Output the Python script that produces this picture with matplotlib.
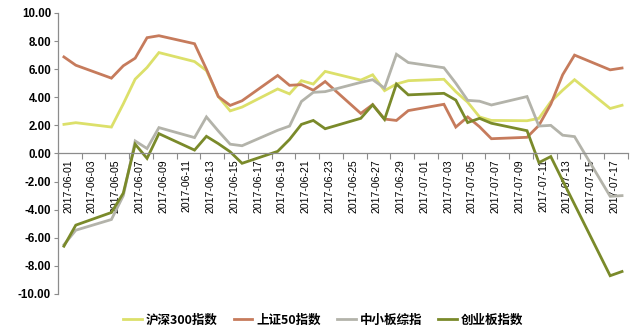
import matplotlib
matplotlib.use("Agg")
import matplotlib.pyplot as plt
import numpy as np
import pandas as pd

# ---- data ----
dates = ["2017-06-01", "2017-06-02", "2017-06-05", "2017-06-06", "2017-06-07", "2017-06-08",
         "2017-06-09", "2017-06-12", "2017-06-13", "2017-06-14", "2017-06-15", "2017-06-16",
         "2017-06-19", "2017-06-20", "2017-06-21", "2017-06-22", "2017-06-23", "2017-06-26",
         "2017-06-27", "2017-06-28", "2017-06-29", "2017-06-30", "2017-07-03", "2017-07-04",
         "2017-07-05", "2017-07-06", "2017-07-07", "2017-07-10", "2017-07-11", "2017-07-12",
         "2017-07-13", "2017-07-14", "2017-07-17", "2017-07-18"]

hs300 = [2.07, 2.19, 1.88, 3.53, 5.29, 6.12, 7.18, 6.54, 5.90, 4.05, 3.03, 3.30,
         4.59, 4.24, 5.18, 4.94, 5.84, 5.22, 5.60, 4.47, 4.94, 5.18, 5.28, 4.40,
         3.65, 2.60, 2.35, 2.33, 2.50, 3.68, 4.50, 5.25, 3.20, 3.43]
sz50 = [6.87, 6.28, 5.36, 6.24, 6.78, 8.24, 8.38, 7.81, 6.00, 4.05, 3.42, 3.75,
        5.55, 4.85, 4.90, 4.50, 5.12, 2.85, 3.48, 2.45, 2.35, 3.05, 3.50, 1.88,
        2.60, 1.90, 1.05, 1.15, 2.00, 3.50, 5.60, 7.00, 5.95, 6.08]
zxb = [-6.50, -5.46, -4.70, -3.00, 0.89, 0.35, 1.84, 1.13, 2.60, 1.60, 0.66, 0.55,
       1.65, 1.95, 3.70, 4.35, 4.40, 5.06, 5.25, 4.65, 7.06, 6.47, 6.10, 5.00,
       3.78, 3.72, 3.45, 4.05, 1.95, 2.00, 1.30, 1.20, -3.05, -3.00]
cyb = [-6.60, -5.10, -4.20, -2.82, 0.66, -0.35, 1.41, 0.24, 1.22, 0.70, 0.12, -0.70,
       0.15, 1.00, 2.07, 2.35, 1.76, 2.50, 3.46, 2.42, 4.94, 4.17, 4.28, 3.80,
       2.20, 2.50, 2.15, 1.62, -0.65, -0.22, -1.93, -3.62, -8.70, -8.40]

series_names = ["沪深300指数", "上证50指数", "中小板综指", "创业板指数"]
series_colors = ["#DCE06A", "#C67B5C", "#B3B3AA", "#7A8A2A"]

tick_labels = ["2017-06-01", "2017-06-03", "2017-06-05", "2017-06-07", "2017-06-09",
               "2017-06-11", "2017-06-13", "2017-06-15", "2017-06-17", "2017-06-19",
               "2017-06-21", "2017-06-23", "2017-06-25", "2017-06-27", "2017-06-29",
               "2017-07-01", "2017-07-03", "2017-07-05", "2017-07-07", "2017-07-09",
               "2017-07-11", "2017-07-13", "2017-07-15", "2017-07-17"]
y_ticks = [-10, -8, -6, -4, -2, 0, 2, 4, 6, 8, 10]

# ---- plot ----
plt.rcParams['font.family'] = ['Liberation Sans', 'Noto Sans CJK SC', 'DejaVu Sans']

start = pd.Timestamp("2017-06-01")
x = np.array([(pd.Timestamp(d) - start).days for d in dates])
tick_x = np.array([(pd.Timestamp(d) - start).days for d in tick_labels])
ndays = (pd.Timestamp(tick_labels[-1]) - start).days + 2

fig = plt.figure(figsize=(6.4, 3.32), dpi=100)
ax = fig.add_axes([0.0906, 0.1145, 0.8906, 0.8465])

for vals, name, col in zip([hs300, sz50, zxb, cyb], series_names, series_colors):
    ax.plot(x, vals, color=col, lw=2.0, label=name, solid_joinstyle='miter')

ax.set_xlim(-0.5, ndays - 0.5)
ax.set_ylim(-10, 10)
ax.set_yticks(y_ticks)
ax.set_yticklabels([f"{v:.2f}" for v in y_ticks], fontsize=8.3, fontweight='bold')

ax.spines['top'].set_visible(False)
ax.spines['right'].set_visible(False)
ax.spines['bottom'].set_position(('data', 0))
for s in ['left', 'bottom']:
    ax.spines[s].set_color('#8c8c8c')
    ax.spines[s].set_linewidth(0.9)

ax.set_xticks(np.arange(-0.5, ndays, 2))
ax.set_xticklabels([])
ax.set_xticks(tick_x + 0.35, minor=True)
ax.set_xticklabels(tick_labels, minor=True, rotation=90, fontsize=7.6)
ax.tick_params(axis='x', which='major', direction='out', length=4, color='#8c8c8c')
ax.tick_params(axis='x', which='minor', length=0, pad=4)
ax.tick_params(axis='y', direction='out', length=3, color='#8c8c8c', pad=2)

leg = fig.legend(loc='center', bbox_to_anchor=(0.505, 0.036), ncol=4, frameon=False,
                 prop={'family': ['Noto Sans CJK SC'], 'size': 9, 'weight': 'bold'},
                 handlelength=1.5, handletextpad=0.3, columnspacing=1.3)

fig.savefig("out.png", dpi=100)
